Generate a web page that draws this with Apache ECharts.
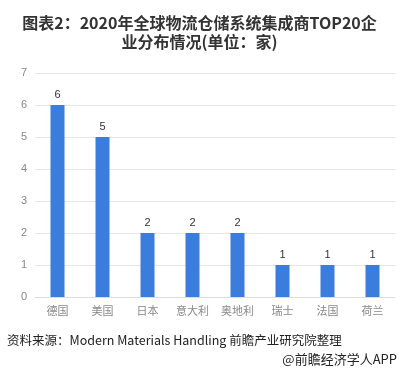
<!DOCTYPE html>
<html><head><meta charset="utf-8">
<script src="https://cdn.jsdelivr.net/npm/echarts@6/dist/echarts.min.js"></script>
<style>html,body{margin:0;padding:0;background:#fff;}#c{width:399px;height:375px;}</style>
</head><body><div id="c"></div>
<script>
var categories = ['德国','美国','日本','意大利','奥地利','瑞士','法国','荷兰'];
var values = [6,5,2,2,2,1,1,1];
var yTicks = [0,1,2,3,4,5,6,7];
var titleLines = ['图表2：2020年全球物流仓储系统集成商TOP20企', '业分布情况(单位：家)'];
var sourceText = '资料来源：Modern Materials Handling 前瞻产业研究院整理';
var brandText = '@前瞻经济学人APP';

var chart = echarts.init(document.getElementById('c'), null, {renderer:'canvas'});
chart.setOption({
  animation:false,
  backgroundColor:'#fff',
  title:{
    text: titleLines.join('\n'), left:'center', top:8,
    textStyle:{fontFamily:'Noto Sans CJK SC', fontWeight:'bold', fontSize:16, color:'#333', lineHeight:19}
  },
  graphic:[
    {type:'text', left:7, top:334, style:{text:sourceText, fontFamily:'Noto Sans CJK SC', fontSize:12.5, fill:'#222'}},
    {type:'text', right:2, top:353, style:{text:brandText, fontFamily:'Noto Sans CJK SC', fontSize:13, fill:'#222'}}
  ],
  grid:{left:35, right:4, top:73, bottom:78},
  xAxis:{
    type:'category', data:categories,
    axisLine:{show:true, lineStyle:{color:'#ddd'}}, axisTick:{show:false},
    axisLabel:{color:'#888', fontSize:11, fontFamily:'Noto Sans CJK SC', margin:8}
  },
  yAxis:{
    type:'value', min:yTicks[0], max:yTicks[yTicks.length-1], interval:1,
    axisLine:{show:false}, axisTick:{show:false},
    axisLabel:{color:'#888', fontSize:11, margin:8},
    splitLine:{lineStyle:{color:'#e6e6e6'}}
  },
  series:[{
    type:'bar', data:values, barWidth:14,
    itemStyle:{color:'#3a7ddc'},
    label:{show:true, position:'top', color:'#333', fontSize:11, distance:5}
  }]
});
</script></body></html>
